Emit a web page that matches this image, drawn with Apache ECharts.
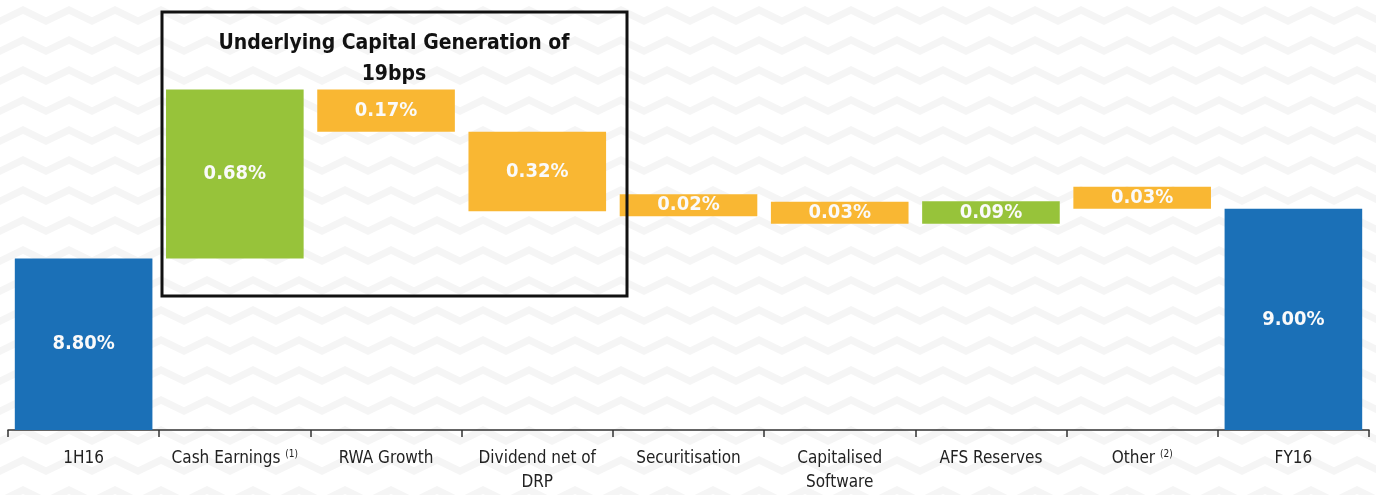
<!DOCTYPE html>
<html>
<head>
    <meta charset="utf-8">
    <script src="https://cdn.jsdelivr.net/npm/echarts@6/dist/echarts.min.js"></script>
    <style>
    html, body { margin: 0; padding: 0; }
    #main {
      width: 1376px;
      height: 495px;
      background-color: #ffffff;
    }
    </style>
    <title>Capital walk 1H16 - FY16</title>
</head>
<body>
    <div id="main"></div>
    <script type="text/javascript">

        // categories and values (CET1 %)
        var categories = ['1H16', 'Cash Earnings', 'RWA Growth', 'Dividend net of\nDRP', 'Securitisation',
                          'Capitalised\nSoftware', 'AFS Reserves', 'Other', 'FY16'];
        var notes = ['', '(1)', '', '', '', '', '', '(2)', ''];
        var openValue = 8.80;
        var changes = [0.68, -0.17, -0.32, -0.02, -0.03, 0.09, -0.03];
        var closeValue = 9.00;

        // faint chevron pattern for the background
        var tile = document.createElement('canvas');
        tile.width = 46; tile.height = 30;
        var g = tile.getContext('2d');
        g.strokeStyle = '#f5f5f5';
        g.lineWidth = 7;
        for (var r = -1; r <= 1; r++) {
            g.beginPath();
            g.moveTo(-2, 22 + r * 30);
            g.lineTo(23, 10 + r * 30);
            g.lineTo(48, 22 + r * 30);
            g.stroke();
        }
        document.getElementById('main').style.backgroundImage = 'url(' + tile.toDataURL() + ')';

        // waterfall pieces
        var baseData = [], upData = [], downData = [], totalData = [];
        var running = openValue;
        totalData.push(openValue); baseData.push(0); upData.push('-'); downData.push('-');
        changes.forEach(function (c) {
            if (c >= 0) {
                baseData.push(running); upData.push(c); downData.push('-');
                running += c;
            } else {
                running += c;
                baseData.push(running); upData.push('-'); downData.push(-c);
            }
            totalData.push('-');
        });
        totalData.push(closeValue); baseData.push(0); upData.push('-'); downData.push('-');

        var font = '"Liberation Sans Narrow", "DejaVu Sans Condensed", sans-serif';

        var barLabel = {
            show: true,
            position: 'inside',
            color: '#fafafa',
            fontFamily: font,
            fontWeight: 'bold',
            fontSize: 20,
            formatter: function (p) { return p.value.toFixed(2) + '%'; }
        };

        var myChart = echarts.init(document.getElementById('main'));

        var option = {
            animation: false,
            grid: { left: 8, right: 7, top: 0, bottom: 62 },
            xAxis: {
                type: 'category',
                data: categories,
                axisLine: { lineStyle: { color: '#333', width: 1.5 } },
                axisTick: { show: true, length: 7, lineStyle: { color: '#333', width: 1.5 } },
                axisLabel: {
                    interval: 0,
                    margin: 17,
                    color: '#222',
                    fontFamily: font,
                    fontSize: 17,
                    lineHeight: 24,
                    formatter: function (v, i) {
                        return notes[i] ? v + ' {sup|' + notes[i] + '}' : v;
                    },
                    rich: {
                        sup: { fontSize: 10, fontFamily: font, color: '#222', padding: [0, 0, 9, 0] }
                    }
                }
            },
            yAxis: {
                type: 'value',
                min: 8.11,
                max: 9.84,
                show: false,
                splitLine: { show: false }
            },
            series: [
                {
                    name: 'base', type: 'bar', stack: 'w', barWidth: '91%',
                    itemStyle: { color: 'transparent' },
                    data: baseData
                },
                {
                    name: 'up', type: 'bar', stack: 'w', barMinHeight: 22,
                    itemStyle: { color: '#97c33a' },
                    label: barLabel,
                    data: upData
                },
                {
                    name: 'down', type: 'bar', stack: 'w', barMinHeight: 22,
                    itemStyle: { color: '#f9b733' },
                    label: barLabel,
                    data: downData
                },
                {
                    name: 'total', type: 'bar', stack: 'w',
                    itemStyle: { color: '#1b70b7' },
                    label: barLabel,
                    data: totalData
                }
            ],
            graphic: [
                {
                    type: 'rect',
                    shape: { x: 162, y: 12, width: 465, height: 284 },
                    style: { fill: 'none', stroke: '#111', lineWidth: 3 },
                    z: 10
                },
                {
                    type: 'text',
                    x: 394, y: 28,
                    style: {
                        text: 'Underlying Capital Generation of\n19bps',
                        fontFamily: font,
                        fontWeight: 'bold',
                        fontSize: 21,
                        lineHeight: 31,
                        fill: '#111',
                        textAlign: 'center'
                    },
                    z: 10
                }
            ]
        };
        myChart.setOption(option);

    </script>
</body>
</html>
